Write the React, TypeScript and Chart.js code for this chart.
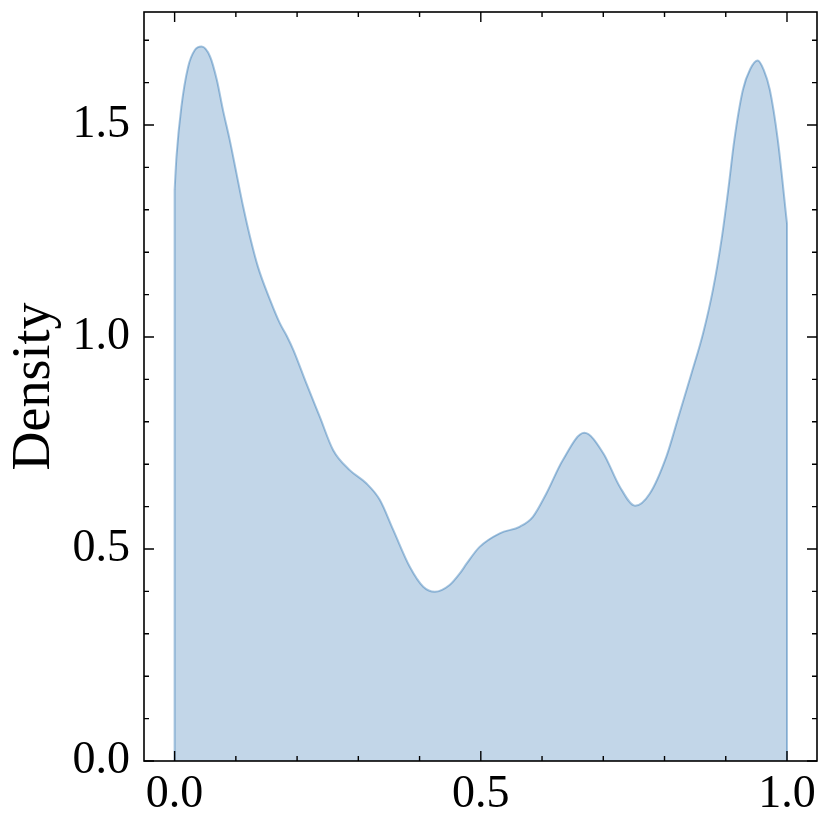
import React, { useEffect, useRef } from "react";
import { Chart, registerables } from "chart.js";

Chart.register(...registerables);

// KDE curve
const xValues = [
  0, 0.003, 0.011, 0.022, 0.033, 0.044, 0.058, 0.069, 0.079, 0.09, 0.101, 0.112, 0.123,
  0.136, 0.156, 0.172, 0.183, 0.194, 0.215, 0.237, 0.259, 0.286, 0.313, 0.335, 0.357,
  0.384, 0.406, 0.425, 0.449, 0.466, 0.477, 0.498, 0.531, 0.564, 0.585, 0.607, 0.634,
  0.669, 0.7, 0.727, 0.752, 0.776, 0.803, 0.822, 0.844, 0.863, 0.879, 0.893, 0.904,
  0.914, 0.928, 0.94, 0.952, 0.962, 0.972, 0.985, 1.0,
];
const densityValues = [
  1.347, 1.425, 1.543, 1.637, 1.677, 1.685, 1.661, 1.606, 1.535, 1.465, 1.386, 1.307, 1.237,
  1.166, 1.087, 1.032, 1.003, 0.969, 0.891, 0.812, 0.733, 0.686, 0.655, 0.616, 0.545,
  0.458, 0.411, 0.399, 0.415, 0.443, 0.466, 0.505, 0.537, 0.553, 0.576, 0.631, 0.71,
  0.774, 0.726, 0.647, 0.602, 0.631, 0.718, 0.808, 0.914, 1.009, 1.111, 1.229, 1.347,
  1.465, 1.583, 1.632, 1.652, 1.63, 1.583, 1.465, 1.268,
];
const xTicks = [0, 0.5, 1.0];
const yTicks = [0, 0.5, 1.0, 1.5];
const xMinorTicks = [0, 0.1, 0.2, 0.3, 0.4, 0.5, 0.6, 0.7, 0.8, 0.9, 1.0];
const yMinorTicks = [0, 0.1, 0.2, 0.3, 0.4, 0.5, 0.6, 0.7, 0.8, 0.9, 1.0, 1.1, 1.2, 1.3, 1.4, 1.5, 1.6, 1.7];
const xRange = [-0.05, 1.049];
const yRange = [0, 1.7665];
const yLabel = "Density";

const FONT = "'Liberation Serif', 'DejaVu Serif', serif";
const LINE = "rgba(12,93,165,0.36)";
const FILL = "rgba(12,93,165,0.25)";

const framePlugin = {
  id: "frameTicks",
  afterDraw(chart: any) {
    const { ctx, chartArea } = chart;
    const xs = chart.scales.x;
    const ys = chart.scales.y;
    const { left, right, top, bottom } = chartArea;
    ctx.save();
    ctx.strokeStyle = "#000";
    ctx.lineWidth = 1.6;
    ctx.strokeRect(left, top, right - left, bottom - top);
    const major = 10;
    const minor = 5;
    ctx.lineWidth = 1.4;
    ctx.beginPath();
    xMinorTicks.forEach((v) => {
      const px = xs.getPixelForValue(v);
      const len = xTicks.some((t) => Math.abs(t - v) < 1e-9) ? major : minor;
      ctx.moveTo(px, bottom);
      ctx.lineTo(px, bottom - len);
      ctx.moveTo(px, top);
      ctx.lineTo(px, top + len);
    });
    yMinorTicks.forEach((v) => {
      const py = ys.getPixelForValue(v);
      const len = yTicks.some((t) => Math.abs(t - v) < 1e-9) ? major : minor;
      ctx.moveTo(left, py);
      ctx.lineTo(left + len, py);
      ctx.moveTo(right, py);
      ctx.lineTo(right - len, py);
    });
    ctx.stroke();
    ctx.restore();
  },
};

export default function App() {
  const ref = useRef<HTMLCanvasElement | null>(null);
  useEffect(() => {
    if (!ref.current) return;
    const curve = xValues.map((x, i) => ({ x, y: densityValues[i] }));
    const first = xValues[0];
    const last = xValues[xValues.length - 1];
    const chart = new Chart(ref.current, {
      type: "line",
      data: {
        datasets: [
          {
            data: curve,
            borderColor: LINE,
            backgroundColor: FILL,
            borderWidth: 2,
            fill: "origin",
            pointRadius: 0,
            cubicInterpolationMode: "monotone",
          },
          {
            data: [
              { x: first, y: 0 },
              { x: first, y: densityValues[0] },
            ],
            borderColor: LINE,
            borderWidth: 2,
            pointRadius: 0,
            fill: false,
          },
          {
            data: [
              { x: last, y: 0 },
              { x: last, y: densityValues[densityValues.length - 1] },
            ],
            borderColor: LINE,
            borderWidth: 2,
            pointRadius: 0,
            fill: false,
          },
        ],
      },
      options: {
        animation: false,
        responsive: true,
        maintainAspectRatio: false,
        layout: { padding: { left: 0, right: 14, top: 12, bottom: 0 } },
        plugins: { legend: { display: false }, tooltip: { enabled: false } },
        scales: {
          x: {
            type: "linear",
            min: xRange[0],
            max: xRange[1],
            grid: { display: false, drawTicks: false },
            border: { display: false },
            afterBuildTicks: (s: any) => {
              s.ticks = xTicks.map((v) => ({ value: v }));
            },
            afterFit: (s: any) => {
              s.height = 68;
              s.paddingLeft = 0;
              s.paddingRight = 0;
            },
            ticks: {
              color: "#000",
              padding: 6,
              maxRotation: 0,
              font: { family: FONT, size: 46 },
              callback: (v: any) => Number(v).toFixed(1),
            },
          },
          y: {
            type: "linear",
            min: yRange[0],
            max: yRange[1],
            grid: { display: false, drawTicks: false },
            border: { display: false },
            afterBuildTicks: (s: any) => {
              s.ticks = yTicks.map((v) => ({ value: v }));
            },
            afterFit: (s: any) => {
              s.width = 144;
              s.paddingTop = 0;
              s.paddingBottom = 0;
            },
            title: {
              display: true,
              text: yLabel,
              color: "#000",
              padding: 2,
              font: { family: FONT, size: 54 },
            },
            ticks: {
              color: "#000",
              padding: 14,
              font: { family: FONT, size: 46 },
              callback: (v: any) => Number(v).toFixed(1),
            },
          },
        },
      },
      plugins: [framePlugin],
    });
    return () => chart.destroy();
  }, []);
  return (
    <div style={{ position: "fixed", left: 0, top: 0, width: 831, height: 829, background: "#fff" }}>
      <canvas ref={ref} />
    </div>
  );
}
